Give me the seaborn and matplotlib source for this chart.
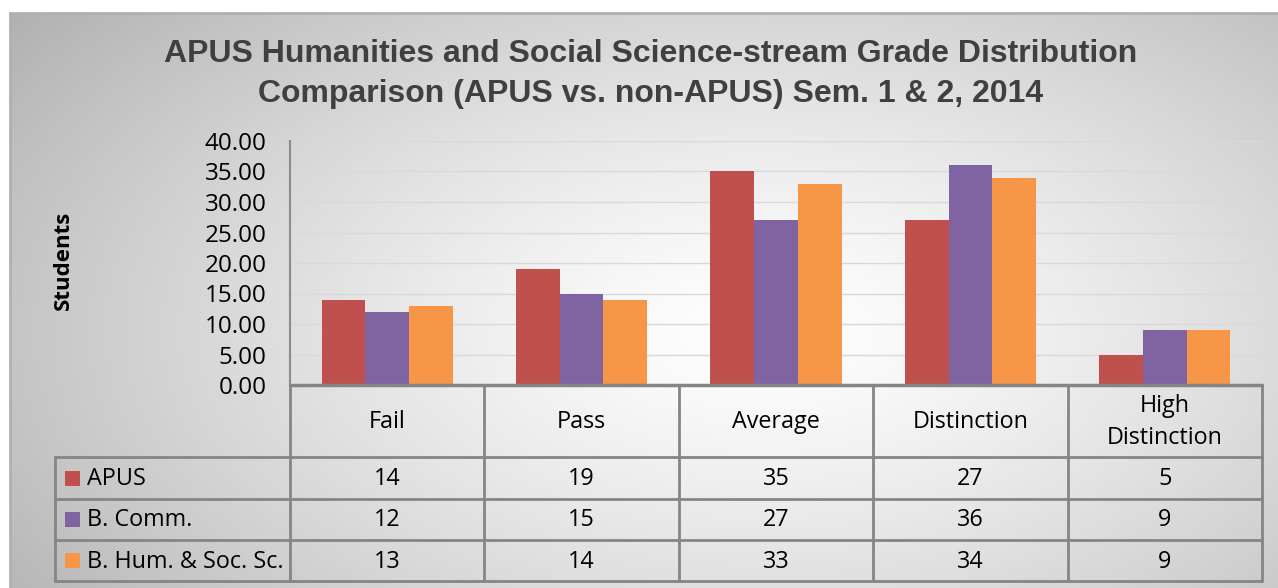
import numpy as np
import pandas as pd
import matplotlib
matplotlib.use("Agg")
import matplotlib.pyplot as plt
import matplotlib.transforms as mtrans
from matplotlib.patches import Rectangle
from matplotlib.lines import Line2D
import seaborn as sns

# ---- data ----
categories = ["Fail", "Pass", "Average", "Distinction", "High\nDistinction"]
series_names = ["APUS", "B. Comm.", "B. Hum. & Soc. Sc."]
apus = [14, 19, 35, 27, 5]
bcomm = [12, 15, 27, 36, 9]
bhum = [13, 14, 33, 34, 9]
colors = ["#C0504D", "#8064A2", "#F79646"]
yticks = [0, 5, 10, 15, 20, 25, 30, 35, 40]
title = "APUS Humanities and Social Science-stream Grade Distribution\nComparison (APUS vs. non-APUS) Sem. 1 & 2, 2014"
ylabel = "Students"

series_values = [apus, bcomm, bhum]
df = pd.DataFrame({
    "Category": [c for vals in series_values for c in categories],
    "Series": [s for s, vals in zip(series_names, series_values) for _ in vals],
    "Students": [v for vals in series_values for v in vals],
})

sns.set_theme(style="white")
plt.rcParams['font.family'] = ['Open Sans', 'DejaVu Sans']

W, H = 1278, 588
fig = plt.figure(figsize=(12.78, 5.88), dpi=100)
fig.patch.set_facecolor('white')

def fx(px):
    return px / W

def fy(py):
    return 1 - py / H

# background gradient
bg = fig.add_axes([fx(10), 0, 1 - fx(10), fy(13)], zorder=0)
bg.set_axis_off()
yy, xx = np.mgrid[13:588, 10:1278]
cx, cy = 760, 330
r = np.sqrt(((xx - cx) / 780.0) ** 2 + ((yy - cy) / 430.0) ** 2)
val = 1 - 0.24 * np.clip(r, 0, 1.2) ** 1.3
img = np.dstack([val] * 3)
bg.imshow(np.clip(img, 0, 1), aspect='auto', extent=[0, 1, 0, 1], origin='upper')
fig.add_artist(Line2D([fx(10), 1], [fy(13), fy(13)], transform=fig.transFigure, color="#b0b0b0", lw=2, zorder=1))
fig.add_artist(Line2D([fx(10), fx(10)], [0, fy(13)], transform=fig.transFigure, color="#b0b0b0", lw=2, zorder=1))

# main axes
ax = fig.add_axes([fx(290), fy(385), fx(1262) - fx(290), fy(141) - fy(385)], zorder=2)
ax.patch.set_alpha(0)
sns.barplot(data=df, x="Category", y="Students", hue="Series", palette=colors,
            width=0.674, gap=0, saturation=1, ax=ax, legend=False, errorbar=None,
            edgecolor='none', linewidth=0)
ax.set_xlim(-0.5, len(categories) - 0.5)
ax.set_ylim(0, 40)
ax.set_yticks(yticks)
ax.set_yticklabels([f"{v:.2f}" for v in yticks], fontsize=17.5, color="black")
ax.tick_params(axis='y', length=0, pad=17)
ax.tick_params(axis='x', length=0, labelbottom=False)
ax.set_xlabel("")
ax.set_ylabel("")
ax.yaxis.grid(True, color="#d9d9d9", lw=1)
ax.set_axisbelow(True)
for s in ["top", "right", "bottom"]:
    ax.spines[s].set_visible(False)
ax.spines["left"].set_color("#8c8c8c")
ax.spines["left"].set_linewidth(1.5)

fig.text(fx(63), fy(260), ylabel, rotation=90, ha='center', va='center',
         fontsize=16, fontweight='bold', color='black')

fig.text(fx(651), fy(74), title, ha='center', va='center', fontsize=23,
         fontweight='bold', color='#404040', family=['Liberation Sans', 'DejaVu Sans'],
         linespacing=1.42)

# data table
tr = mtrans.blended_transform_factory(ax.transData, fig.transFigure)
line_c = "#858585"
lw = 2
n = len(categories)
x0, x1 = -0.5, n - 0.5
y_top, rows_y = 385, [457, 499, 540, 581]
for i in range(n + 1):
    fig.add_artist(Line2D([i - 0.5, i - 0.5], [fy(y_top), fy(581)], transform=tr, color=line_c, lw=lw, zorder=3))
fig.add_artist(Line2D([fx(55), fx(55)], [fy(457), fy(581)], transform=fig.transFigure, color=line_c, lw=lw, zorder=3))
fig.add_artist(Line2D([x0, x1], [fy(y_top), fy(y_top)], transform=tr, color=line_c, lw=lw + 0.5, zorder=3))
for yv in rows_y:
    fig.add_artist(Line2D([fx(55), fx(1262)], [fy(yv), fy(yv)], transform=fig.transFigure, color=line_c, lw=lw, zorder=3))

fs = 16.8
for i, c in enumerate(categories):
    fig.text(i, fy(422), c, transform=tr, ha='center', va='center', fontsize=fs,
             color='black', linespacing=1.4, zorder=4)
for j, (name, vals, col) in enumerate(zip(series_names, series_values, colors)):
    yc = (rows_y[j] + rows_y[j + 1]) / 2 + 1
    for i, v in enumerate(vals):
        fig.text(i, fy(yc), str(v), transform=tr, ha='center', va='center',
                 fontsize=fs, color='black', zorder=4)
    fig.add_artist(Rectangle((fx(65), fy(yc + 6.5)), fx(15), 15 / H,
                             transform=fig.transFigure, facecolor=col, edgecolor='none', zorder=4))
    fig.text(fx(87), fy(yc), name, ha='left', va='center', fontsize=fs, color='black', zorder=4)

fig.savefig("out.png", dpi=100)
